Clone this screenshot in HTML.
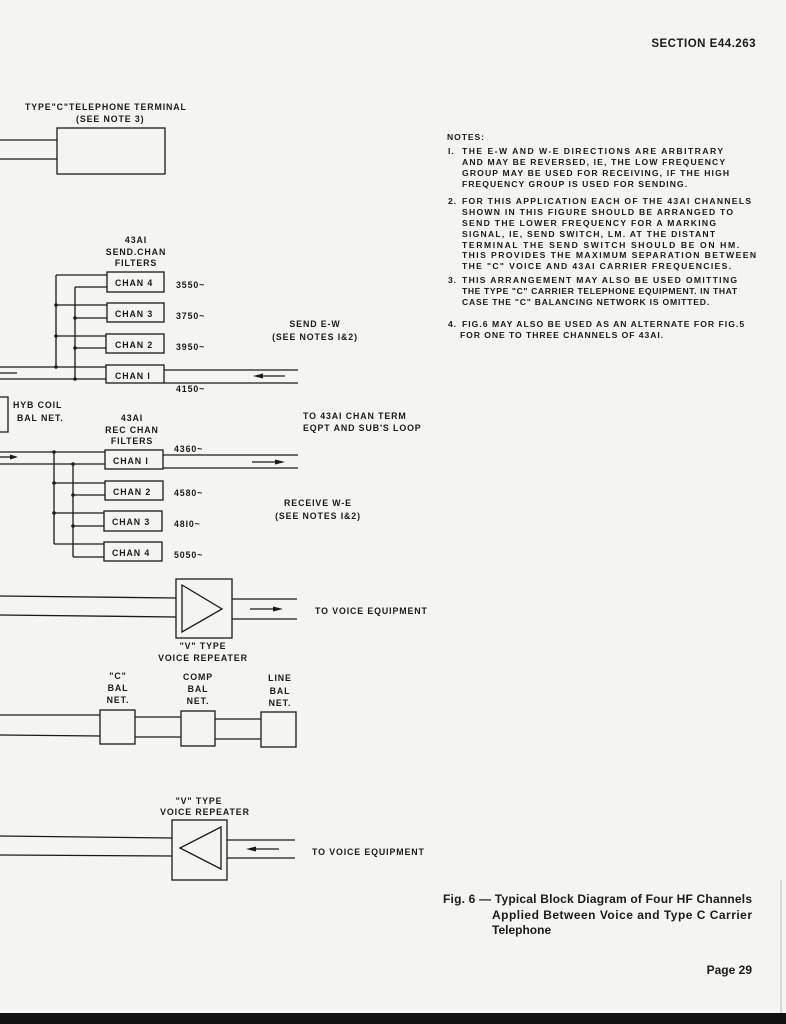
<!DOCTYPE html>
<html><head><meta charset="utf-8"><style>
html,body{margin:0;padding:0;background:#f4f4f2;}
svg{display:block}
text{font-family:"Liberation Sans",sans-serif;fill:#1a1a1a;}
.l{font-size:8.8px;letter-spacing:0.9px;font-weight:bold;}
.n{font-size:8.6px;letter-spacing:0.9px;font-weight:bold;}
.b{font-weight:bold;}
</style></head><body>
<svg width="786" height="1024" viewBox="0 0 786 1024" xmlns="http://www.w3.org/2000/svg">
<rect width="786" height="1024" fill="#f4f4f2"/>
<rect x="0" y="1013" width="786" height="11" fill="#111"/>
<line x1="781" y1="880" x2="781" y2="1013" stroke="#bbb" stroke-width="1"/>
<g stroke="#1a1a1a" stroke-width="1.3" fill="none">
<rect x="57" y="128" width="108" height="46"/>
<line x1="0" y1="140" x2="57" y2="140"/><line x1="0" y1="159" x2="57" y2="159"/>
<rect x="107" y="272" width="57" height="20"/>
<rect x="107" y="303" width="57" height="19"/>
<rect x="106" y="334" width="58" height="19"/>
<rect x="106" y="365" width="58" height="18"/>
<line x1="56" y1="275" x2="56" y2="367"/><line x1="75" y1="287" x2="75" y2="379"/>
<line x1="56" y1="275" x2="107" y2="275"/><line x1="75" y1="287" x2="107" y2="287"/>
<line x1="56" y1="305" x2="107" y2="305"/><line x1="75" y1="318" x2="107" y2="318"/>
<line x1="56" y1="336" x2="106" y2="336"/><line x1="75" y1="348" x2="106" y2="348"/>
<line x1="0" y1="367" x2="106" y2="367"/><line x1="0" y1="379" x2="106" y2="379"/>
<line x1="0" y1="373" x2="17" y2="373"/>
<line x1="164" y1="370" x2="298" y2="370"/><line x1="164" y1="383" x2="298" y2="383"/>
<line x1="258" y1="376" x2="285" y2="376"/>
<polyline points="0,397 8,397 8,432 0,432"/>
<rect x="105" y="450" width="58" height="19"/>
<rect x="105" y="481" width="58" height="19"/>
<rect x="104" y="511" width="58" height="20"/>
<rect x="104" y="542" width="58" height="19"/>
<line x1="0" y1="452" x2="105" y2="452"/><line x1="0" y1="464" x2="105" y2="464"/>
<line x1="0" y1="457" x2="12" y2="457"/>
<line x1="163" y1="455" x2="298" y2="455"/><line x1="163" y1="468" x2="298" y2="468"/>
<line x1="252" y1="462" x2="278" y2="462"/>
<line x1="54" y1="452" x2="54" y2="544"/><line x1="73" y1="464" x2="73" y2="557"/>
<line x1="54" y1="483" x2="105" y2="483"/><line x1="73" y1="495" x2="105" y2="495"/>
<line x1="54" y1="513" x2="104" y2="513"/><line x1="73" y1="526" x2="104" y2="526"/>
<line x1="54" y1="544" x2="104" y2="544"/><line x1="73" y1="557" x2="104" y2="557"/>
<rect x="176" y="579" width="56" height="59"/>
<polygon points="182,585 222,609 182,632"/>
<line x1="0" y1="596" x2="176" y2="598"/><line x1="0" y1="615" x2="176" y2="617"/>
<line x1="232" y1="599" x2="297" y2="599"/><line x1="232" y1="619" x2="297" y2="619"/>
<line x1="250" y1="609" x2="276" y2="609"/>
<rect x="100" y="710" width="35" height="34"/>
<rect x="181" y="711" width="34" height="35"/>
<rect x="261" y="712" width="35" height="35"/>
<line x1="0" y1="715" x2="100" y2="715"/><line x1="0" y1="735" x2="100" y2="736"/>
<line x1="135" y1="717" x2="181" y2="717"/><line x1="135" y1="737" x2="181" y2="737"/>
<line x1="215" y1="719" x2="261" y2="719"/><line x1="215" y1="739" x2="261" y2="739"/>
<rect x="172" y="820" width="55" height="60"/>
<polygon points="221,827 180,848 221,869"/>
<line x1="0" y1="836" x2="172" y2="838"/><line x1="0" y1="855" x2="172" y2="856"/>
<line x1="227" y1="840" x2="295" y2="840"/><line x1="227" y1="858" x2="295" y2="858"/>
<line x1="253" y1="849" x2="279" y2="849"/>
</g>
<g fill="#1a1a1a">
<circle cx="56" cy="305" r="1.8"/><circle cx="56" cy="336" r="1.8"/><circle cx="56" cy="367" r="1.8"/>
<circle cx="75" cy="318" r="1.8"/><circle cx="75" cy="348" r="1.8"/><circle cx="75" cy="379" r="1.8"/>
<circle cx="54" cy="452" r="1.8"/><circle cx="54" cy="483" r="1.8"/><circle cx="54" cy="513" r="1.8"/>
<circle cx="73" cy="464" r="1.8"/><circle cx="73" cy="495" r="1.8"/><circle cx="73" cy="526" r="1.8"/>
<polygon points="253,376 263,373.5 263,378.5"/>
<polygon points="18,457 10,454.5 10,459.5"/>
<polygon points="285,462 275,459.5 275,464.5"/>
<polygon points="283,609 273,606.5 273,611.5"/>
<polygon points="246,849 256,846.5 256,851.5"/>
</g>
<text x="756" y="47" text-anchor="end" class="b" style="font-size:11.5px;letter-spacing:0.5px">SECTION E44.263</text>
<g class="l">
<text x="25" y="110">TYPE"C"TELEPHONE TERMINAL</text>
<text x="76" y="122">(SEE NOTE 3)</text>
<text x="136" y="243" text-anchor="middle">43AI</text>
<text x="136" y="255" text-anchor="middle">SEND.CHAN</text>
<text x="136" y="266" text-anchor="middle">FILTERS</text>
<text x="115" y="286">CHAN 4</text><text x="115" y="317">CHAN 3</text>
<text x="115" y="348">CHAN 2</text><text x="115" y="379">CHAN I</text>
<text x="176" y="288">3550~</text><text x="176" y="319">3750~</text>
<text x="176" y="350">3950~</text><text x="176" y="392">4150~</text>
<text x="315" y="327" text-anchor="middle">SEND E-W</text>
<text x="315" y="340" text-anchor="middle">(SEE NOTES I&amp;2)</text>
<text x="13" y="408">HYB COIL</text><text x="17" y="421">BAL NET.</text>
<text x="132" y="421" text-anchor="middle">43AI</text>
<text x="132" y="433" text-anchor="middle">REC CHAN</text>
<text x="132" y="444" text-anchor="middle">FILTERS</text>
<text x="113" y="464">CHAN I</text><text x="113" y="495">CHAN 2</text>
<text x="112" y="525">CHAN 3</text><text x="112" y="556">CHAN 4</text>
<text x="174" y="452">4360~</text><text x="174" y="496">4580~</text>
<text x="174" y="527">48I0~</text><text x="174" y="558">5050~</text>
<text x="303" y="419">TO 43AI CHAN TERM</text>
<text x="303" y="431">EQPT AND SUB'S LOOP</text>
<text x="318" y="506" text-anchor="middle">RECEIVE W-E</text>
<text x="318" y="519" text-anchor="middle">(SEE NOTES I&amp;2)</text>
<text x="315" y="614">TO VOICE EQUIPMENT</text>
<text x="203" y="649" text-anchor="middle">"V" TYPE</text>
<text x="203" y="661" text-anchor="middle">VOICE REPEATER</text>
<text x="118" y="679" text-anchor="middle">"C"</text><text x="118" y="691" text-anchor="middle">BAL</text><text x="118" y="703" text-anchor="middle">NET.</text>
<text x="198" y="680" text-anchor="middle">COMP</text><text x="198" y="692" text-anchor="middle">BAL</text><text x="198" y="704" text-anchor="middle">NET.</text>
<text x="280" y="681" text-anchor="middle">LINE</text><text x="280" y="694" text-anchor="middle">BAL</text><text x="280" y="706" text-anchor="middle">NET.</text>
<text x="199" y="804" text-anchor="middle">"V" TYPE</text>
<text x="205" y="815" text-anchor="middle">VOICE REPEATER</text>
<text x="312" y="855">TO VOICE EQUIPMENT</text>
</g>
<g class="n">
<text x="447" y="140">NOTES:</text>
<text x="448" y="154">I.</text>
<text x="462" y="154" textLength="262">THE E-W AND W-E DIRECTIONS ARE ARBITRARY</text>
<text x="462" y="165" textLength="264">AND MAY BE REVERSED, IE, THE LOW FREQUENCY</text>
<text x="462" y="176" textLength="268">GROUP MAY BE USED FOR RECEIVING, IF THE HIGH</text>
<text x="462" y="187" textLength="226">FREQUENCY GROUP IS USED FOR SENDING.</text>
<text x="448" y="204">2.</text>
<text x="462" y="204" textLength="290">FOR THIS APPLICATION EACH OF THE 43AI CHANNELS</text>
<text x="462" y="215" textLength="272">SHOWN IN THIS FIGURE SHOULD BE ARRANGED TO</text>
<text x="462" y="226" textLength="255">SEND THE LOWER FREQUENCY FOR A MARKING</text>
<text x="462" y="237" textLength="254">SIGNAL, IE, SEND SWITCH, LM. AT THE DISTANT</text>
<text x="462" y="248" textLength="278">TERMINAL THE SEND SWITCH SHOULD BE ON HM.</text>
<text x="462" y="258" textLength="295">THIS PROVIDES THE MAXIMUM SEPARATION BETWEEN</text>
<text x="462" y="269" textLength="270">THE "C" VOICE AND 43AI CARRIER FREQUENCIES.</text>
<text x="448" y="283">3.</text>
<text x="462" y="283" textLength="276">THIS ARRANGEMENT MAY ALSO BE USED OMITTING</text>
<text x="462" y="294" textLength="276">THE TYPE "C" CARRIER TELEPHONE EQUIPMENT. IN THAT</text>
<text x="462" y="305" textLength="248">CASE THE "C" BALANCING NETWORK IS OMITTED.</text>
<text x="448" y="327">4.</text>
<text x="462" y="327" textLength="283">FIG.6 MAY ALSO BE USED AS AN ALTERNATE FOR FIG.5</text>
<text x="460" y="338" textLength="204">FOR ONE TO THREE CHANNELS OF 43AI.</text>
</g>
<g class="b" style="font-size:12px">
<text x="443" y="903" textLength="309">Fig. 6 — Typical Block Diagram of Four HF Channels</text>
<text x="492" y="919" textLength="260">Applied Between Voice and Type C Carrier</text>
<text x="492" y="934">Telephone</text>
<text x="752" y="974" text-anchor="end">Page 29</text>
</g>
</svg>
</body></html>
